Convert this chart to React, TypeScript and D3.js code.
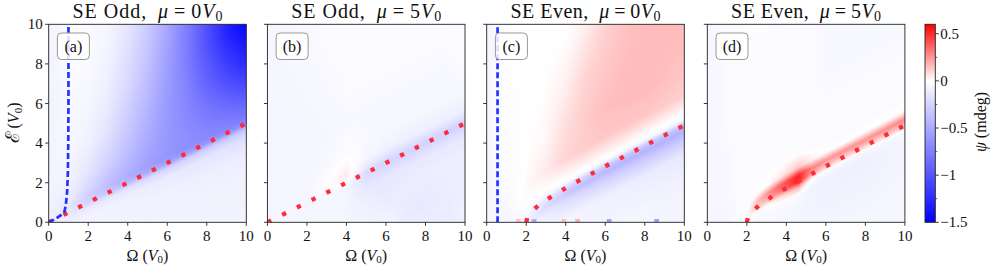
import React, { useMemo } from "react";
import * as d3 from "d3";

// ---------------- data ----------------
const OMEGA_TICKS = [0, 2, 4, 6, 8, 10];
const E_TICKS = [0, 2, 4, 6, 8, 10];
const CBAR_TICKS = [-1.5, -1, -0.5, 0, 0.5];
const CBAR_TICK_LABELS = ["\u22121.5", "\u22121", "\u22120.5", "0", "0.5"];
const CBAR_MINOR = [-1.25, -0.75, -0.25, 0.25];
const CBAR_RANGE = [-1.5, 0, 0.6];

const PANEL_TAGS = ["(a)", "(b)", "(c)", "(d)"];
const PANEL_PARITY = ["Odd", "Odd", "Even", "Even"];
const PANEL_MU = [0, 5, 0, 5];

// offset rows (E minus the red threshold curve), top to bottom
const S_ROWS = [10, 7.5, 5, 3, 1.5, 0.7, 0.3, 0, -0.3, -0.7, -1.5, -3, -5];

// red dotted threshold curves
const LIN_CURVE_OMEGA = [0, 10];
const LIN_CURVE_E = [0, 5];
const SQ_CURVE_OMEGA = [2, 2.05, 2.1, 2.2, 2.4, 2.6, 2.8, 3, 3.5, 4, 5, 6, 7, 8, 9, 10];
const SQ_CURVE_E = [0, 0.22, 0.32, 0.46, 0.66, 0.83, 0.98, 1.12, 1.44, 1.73, 2.29, 2.83, 3.35, 3.87, 4.39, 4.9];

// blue dashed curves
const BLUE_A_OMEGA = [0, 0.3, 0.6, 0.8, 0.87, 0.93, 0.97, 0.99, 1.0, 1.0, 1.0];
const BLUE_A_E = [0, 0.15, 0.35, 0.55, 0.9, 1.5, 2.5, 4, 6, 8, 10];
const BLUE_C_OMEGA = [0.55, 0.55];
const BLUE_C_E = [0, 10];

// psi (mdeg) values, one column per Omega node, rows follow S_ROWS
const OMEGA_NODES_INT = [0, 1, 2, 3, 4, 5, 6, 7, 8, 9, 10];
const ODD_MU0 = [
  [-0.07, -0.07, -0.07, -0.07, -0.07, -0.08, -0.08, -0.08, -0.08, -0.08, -0.08, -0.08, -0.08],
  [-0.03, -0.03, -0.04, -0.05, -0.07, -0.11, -0.14, -0.14, -0.1, -0.08, -0.08, -0.08, -0.08],
  [-0.03, -0.03, -0.05, -0.08, -0.15, -0.23, -0.28, -0.24, -0.11, -0.07, -0.06, -0.06, -0.06],
  [-0.06, -0.06, -0.1, -0.17, -0.26, -0.34, -0.38, -0.32, -0.13, -0.08, -0.07, -0.07, -0.07],
  [-0.15, -0.15, -0.22, -0.3, -0.38, -0.44, -0.47, -0.4, -0.16, -0.09, -0.07, -0.07, -0.07],
  [-0.3, -0.3, -0.37, -0.44, -0.5, -0.54, -0.56, -0.48, -0.2, -0.11, -0.08, -0.07, -0.07],
  [-0.5, -0.5, -0.56, -0.59, -0.6, -0.61, -0.62, -0.53, -0.23, -0.12, -0.08, -0.07, -0.07],
  [-0.76, -0.76, -0.76, -0.72, -0.68, -0.66, -0.66, -0.58, -0.26, -0.14, -0.09, -0.07, -0.07],
  [-1.02, -1.02, -1.02, -0.9, -0.78, -0.71, -0.69, -0.61, -0.28, -0.15, -0.1, -0.07, -0.07],
  [-1.28, -1.28, -1.28, -1.08, -0.88, -0.77, -0.73, -0.64, -0.3, -0.17, -0.1, -0.07, -0.07],
  [-1.48, -1.48, -1.48, -1.24, -0.99, -0.84, -0.77, -0.67, -0.33, -0.19, -0.11, -0.08, -0.07],
];
const ODD_MU5 = [
  [-0.05, -0.05, -0.06, -0.06, -0.06, -0.06, -0.06, -0.06, -0.06, -0.06, -0.06, -0.06, -0.06],
  [-0.05, -0.05, -0.06, -0.06, -0.06, -0.06, -0.06, -0.06, -0.06, -0.06, -0.06, -0.06, -0.06],
  [-0.04, -0.04, -0.05, -0.06, -0.06, -0.06, -0.06, -0.06, -0.06, -0.06, -0.06, -0.06, -0.06],
  [-0.03, -0.03, -0.04, -0.05, -0.04, -0.01, 0.0, -0.03, -0.05, -0.06, -0.06, -0.06, -0.06],
  [-0.03, -0.03, -0.03, -0.04, -0.02, 0.03, 0.05, 0.0, -0.06, -0.06, -0.06, -0.06, -0.06],
  [-0.03, -0.03, -0.03, -0.04, -0.04, -0.06, -0.13, -0.22, -0.18, -0.14, -0.09, -0.06, -0.06],
  [-0.03, -0.03, -0.03, -0.04, -0.05, -0.08, -0.18, -0.25, -0.2, -0.14, -0.13, -0.06, -0.06],
  [-0.03, -0.03, -0.03, -0.04, -0.05, -0.09, -0.18, -0.25, -0.2, -0.13, -0.11, -0.12, -0.06],
  [-0.03, -0.03, -0.03, -0.04, -0.05, -0.09, -0.19, -0.26, -0.2, -0.13, -0.1, -0.13, -0.07],
  [-0.02, -0.02, -0.03, -0.04, -0.05, -0.09, -0.19, -0.26, -0.2, -0.13, -0.1, -0.11, -0.12],
  [-0.02, -0.02, -0.02, -0.03, -0.05, -0.09, -0.19, -0.26, -0.2, -0.13, -0.1, -0.09, -0.08],
];
const EVEN_MU0 = [
  [-0.06, -0.06, -0.06, -0.06, -0.06, -0.06, -0.06, -0.06, -0.06, -0.06, -0.06, -0.06, -0.06],
  [-0.01, -0.01, -0.015, -0.02, -0.03, -0.04, -0.05, -0.05, -0.05, -0.05, -0.05, -0.05, -0.05],
  [0.0, 0.0, 0.0, 0.0, 0.01, 0.0, -0.03, -0.06, -0.06, -0.06, -0.06, -0.06, -0.06],
  [0.0, 0.0, 0.005, 0.02, 0.05, 0.01, -0.02, -0.15, -0.22, -0.12, -0.06, -0.06, -0.06],
  [0.0, 0.0, 0.04, 0.08, 0.1, 0.02, -0.02, -0.22, -0.32, -0.18, -0.07, -0.06, -0.06],
  [0.04, 0.04, 0.1, 0.12, 0.12, 0.03, -0.02, -0.27, -0.38, -0.23, -0.08, -0.06, -0.06],
  [0.1, 0.1, 0.13, 0.15, 0.13, 0.03, -0.02, -0.3, -0.41, -0.26, -0.09, -0.06, -0.06],
  [0.14, 0.14, 0.15, 0.16, 0.13, 0.03, -0.02, -0.32, -0.43, -0.28, -0.1, -0.06, -0.06],
  [0.16, 0.16, 0.16, 0.16, 0.13, 0.02, -0.03, -0.33, -0.44, -0.3, -0.11, -0.06, -0.06],
  [0.16, 0.16, 0.16, 0.15, 0.12, 0.02, -0.04, -0.34, -0.45, -0.31, -0.12, -0.07, -0.06],
  [0.16, 0.16, 0.16, 0.14, 0.11, 0.01, -0.05, -0.35, -0.45, -0.32, -0.13, -0.07, -0.06],
];
const OMEGA_NODES_D = [0, 1, 2, 2.5, 3, 4, 4.6, 5.3, 6, 7, 8, 9, 10];
const EVEN_MU5 = [
  [-0.05, -0.05, -0.05, -0.05, -0.05, -0.05, -0.05, -0.05, -0.05, -0.05, -0.05, -0.05, -0.05],
  [-0.03, -0.03, -0.03, -0.04, -0.04, -0.05, -0.05, -0.05, -0.05, -0.05, -0.05, -0.05, -0.05],
  [-0.02, -0.02, -0.02, -0.02, -0.02, -0.02, -0.01, 0.02, -0.03, -0.05, -0.05, -0.05, -0.05],
  [-0.02, -0.02, -0.02, -0.02, -0.02, -0.01, 0.15, 0.1, -0.02, -0.05, -0.05, -0.05, -0.05],
  [-0.02, -0.02, -0.02, -0.02, -0.02, 0.01, 0.25, 0.18, 0.0, -0.04, -0.05, -0.05, -0.05],
  [-0.03, -0.03, -0.02, -0.02, -0.02, 0.08, 0.42, 0.38, 0.1, -0.03, -0.05, -0.05, -0.05],
  [-0.03, -0.03, -0.03, -0.02, -0.02, 0.13, 0.52, 0.55, 0.18, -0.03, -0.06, -0.05, -0.05],
  [-0.03, -0.03, -0.03, -0.03, -0.03, 0.03, 0.3, 0.2, -0.02, -0.07, -0.07, -0.06, -0.05],
  [-0.04, -0.04, -0.04, -0.03, -0.03, 0.0, 0.26, 0.12, -0.04, -0.08, -0.08, -0.06, -0.05],
  [-0.04, -0.04, -0.04, -0.03, -0.03, 0.0, 0.26, 0.12, -0.05, -0.09, -0.08, -0.06, -0.05],
  [-0.04, -0.04, -0.04, -0.03, -0.03, 0.0, 0.26, 0.12, -0.05, -0.09, -0.08, -0.06, -0.05],
  [-0.04, -0.04, -0.04, -0.03, -0.03, 0.01, 0.27, 0.13, -0.04, -0.07, -0.07, -0.06, -0.05],
  [-0.04, -0.04, -0.04, -0.03, -0.03, 0.02, 0.29, 0.14, -0.03, -0.06, -0.06, -0.06, -0.05],
];

// small speckles at the bottom of panel (c): [Omega, psi]
const C_SPECK_OMEGA = [1.6, 2.4, 3.9, 4.6, 6.2, 8.6];
const C_SPECK_VALUE = [0.15, -0.5, 0.15, 0.2, -0.6, -0.6];

// ---------------- layout ----------------
const W = 996;
const H = 275;
const TOP = 24.3;
const BOTTOM = 222.3;
const PANEL_LEFT = [48.7, 267.4, 486.7, 707.3];
const PANEL_W = 197.6;
const CBAR_X = 925;
const CBAR_W = 10.3;
const FONT = "'Liberation Serif', 'DejaVu Serif', serif";

const PANELS = [
  { cols: OMEGA_NODES_INT, values: ODD_MU0, ridgeO: LIN_CURVE_OMEGA, ridgeE: LIN_CURVE_E, blueO: BLUE_A_OMEGA, blueE: BLUE_A_E },
  { cols: OMEGA_NODES_INT, values: ODD_MU5, ridgeO: LIN_CURVE_OMEGA, ridgeE: LIN_CURVE_E, blueO: null, blueE: null },
  { cols: OMEGA_NODES_INT, values: EVEN_MU0, ridgeO: SQ_CURVE_OMEGA, ridgeE: SQ_CURVE_E, blueO: BLUE_C_OMEGA, blueE: BLUE_C_E },
  { cols: OMEGA_NODES_D, values: EVEN_MU5, ridgeO: SQ_CURVE_OMEGA, ridgeE: SQ_CURVE_E, blueO: null, blueE: null },
];

const S_ASC = S_ROWS.slice().reverse();

function locate(arr: number[], x: number): [number, number] {
  const n = arr.length;
  if (x <= arr[0]) return [0, 0];
  if (x >= arr[n - 1]) return [n - 2, 1];
  const i = Math.min(n - 2, d3.bisectRight(arr, x) - 1);
  return [i, (x - arr[i]) / (arr[i + 1] - arr[i])];
}

function interp1(xs: number[], ys: number[], x: number) {
  const [i, t] = locate(xs, x);
  return ys[i] + t * (ys[i + 1] - ys[i]);
}

function sampleGrid(cols: number[], values: number[][], omega: number, s: number) {
  const [ci, ct] = locate(cols, omega);
  const [ri, rt] = locate(S_ASC, s);
  const nR = S_ROWS.length;
  const g = (c: number, r: number) => values[c][nR - 1 - r];
  return (
    (1 - ct) * (1 - rt) * g(ci, ri) +
    ct * (1 - rt) * g(ci + 1, ri) +
    (1 - ct) * rt * g(ci, ri + 1) +
    ct * rt * g(ci + 1, ri + 1)
  );
}

const color = d3
  .scaleLinear<string>()
  .domain(CBAR_RANGE)
  .range(["#0000ff", "#ffffff", "#ff0000"])
  .clamp(true);

function buildImage(p: (typeof PANELS)[number]) {
  const iw = 396;
  const ih = 396;
  const xs = d3.scaleLinear().domain([0, 10]).range([0, iw]);
  const ys = d3.scaleLinear().domain([0, 10]).range([ih, 0]);
  const lutN = 1024;
  const lutV = d3.scaleLinear().domain([0, lutN - 1]).range([CBAR_RANGE[0], CBAR_RANGE[2]]);
  const lut = d3.range(lutN).map((k) => d3.rgb(color(lutV(k))));
  const canvas = document.createElement("canvas");
  canvas.width = iw;
  canvas.height = ih;
  const ctx = canvas.getContext("2d")!;
  const img = ctx.createImageData(iw, ih);
  for (let j = 0; j < ih; j++) {
    const e = ys.invert(j + 0.5);
    for (let i = 0; i < iw; i++) {
      const o = xs.invert(i + 0.5);
      const ridge = interp1(p.ridgeO, p.ridgeE, o);
      const v = sampleGrid(p.cols, p.values, o, e - ridge);
      const k = Math.max(0, Math.min(lutN - 1, Math.round(lutV.invert(v))));
      const c = lut[k];
      const idx = (j * iw + i) * 4;
      img.data[idx] = c.r;
      img.data[idx + 1] = c.g;
      img.data[idx + 2] = c.b;
      img.data[idx + 3] = 255;
    }
  }
  ctx.putImageData(img, 0, 0);
  return canvas.toDataURL();
}

export default function App() {
  const images = useMemo(() => PANELS.map((p) => buildImage(p)), []);
  const y = d3.scaleLinear().domain([0, 10]).range([BOTTOM, TOP]);
  const cbarY = d3.scaleLinear().domain([CBAR_RANGE[0], CBAR_RANGE[2]]).range([BOTTOM, TOP]);
  const tickColor = "#222";

  return (
    <svg
      width={W}
      height={H}
      style={{ position: "absolute", left: 0, top: 0, background: "#fff" }}
      fontFamily={FONT}
    >
      <defs>
        {PANELS.map((_, i) => (
          <clipPath id={`clip${i}`} key={i}>
            <rect x={PANEL_LEFT[i]} y={TOP} width={PANEL_W} height={BOTTOM - TOP} />
          </clipPath>
        ))}
        <linearGradient id="cbar" x1="0" y1="1" x2="0" y2="0">
          {CBAR_RANGE.map((v) => (
            <stop
              key={v}
              offset={(v - CBAR_RANGE[0]) / (CBAR_RANGE[2] - CBAR_RANGE[0])}
              stopColor={color(v)}
            />
          ))}
        </linearGradient>
      </defs>

      {PANELS.map((p, i) => {
        const left = PANEL_LEFT[i];
        const x = d3.scaleLinear().domain([0, 10]).range([left, left + PANEL_W]);
        const line = d3
          .line<[number, number]>()
          .x((d) => x(d[0]))
          .y((d) => y(d[1]));
        const redPts: [number, number][] = p.ridgeO.map((o, k) => [o, p.ridgeE[k]] as [number, number]);
        const bluePts: [number, number][] | null = p.blueO
          ? p.blueO.map((o, k) => [o, p.blueE![k]] as [number, number])
          : null;
        const cx = left + PANEL_W / 2;
        return (
          <g key={i}>
            <image
              href={images[i]}
              x={left}
              y={TOP}
              width={PANEL_W}
              height={BOTTOM - TOP}
              preserveAspectRatio="none"
            />
            {i === 2 &&
              C_SPECK_OMEGA.map((o, k) => (
                <rect
                  key={k}
                  x={x(o - 0.12)}
                  y={y(0.16)}
                  width={x(0.24) - x(0)}
                  height={y(0.02) - y(0.16)}
                  fill={color(C_SPECK_VALUE[k])}
                />
              ))}
            <g clipPath={`url(#clip${i})`}>
              <path
                d={line(redPts) || ""}
                fill="none"
                stroke="#ff2a3a"
                strokeWidth={4.3}
                strokeDasharray="4.3 12.2"
              />
              {bluePts && (
                <path
                  d={line(bluePts) || ""}
                  fill="none"
                  stroke="#2233ff"
                  strokeWidth={2.7}
                  strokeDasharray="6 3"
                />
              )}
            </g>
            <rect
              x={left}
              y={TOP}
              width={PANEL_W}
              height={BOTTOM - TOP}
              fill="none"
              stroke={tickColor}
              strokeWidth={0.9}
            />
            {OMEGA_TICKS.map((t) => (
              <g key={t}>
                <line x1={x(t)} x2={x(t)} y1={BOTTOM} y2={BOTTOM + 3.5} stroke={tickColor} strokeWidth={0.9} />
                <text x={x(t)} y={241.3} textAnchor="middle" fontSize={15} fill="#111">
                  {t}
                </text>
              </g>
            ))}
            {E_TICKS.map((t) => (
              <g key={t}>
                <line x1={left - 3.5} x2={left} y1={y(t)} y2={y(t)} stroke={tickColor} strokeWidth={0.9} />
                {i === 0 && (
                  <text x={left - 6} y={y(t) + 5} textAnchor="end" fontSize={15} fill="#111">
                    {t}
                  </text>
                )}
              </g>
            ))}
            <text x={cx} y={260.5} textAnchor="middle" fontSize={16} fill="#111">
              {"\u03A9 ("}
              <tspan fontStyle="italic">V</tspan>
              <tspan fontSize={11} dy={2.5}>0</tspan>
              <tspan dy={-2.5}>{")"}</tspan>
            </text>
            <text
              x={cx}
              y={18.3}
              textAnchor="middle"
              fontSize={20}
              fill="#111"
              textLength={150}
              lengthAdjust="spacing"
            >
              {`SE ${PANEL_PARITY[i]},\u2002`}
              <tspan fontStyle="italic">{"\u03BC"}</tspan>
              {`\u2009=\u2009${PANEL_MU[i]}`}
              <tspan fontStyle="italic">V</tspan>
              <tspan fontSize={14} dy={3}>0</tspan>
            </text>
            <rect
              x={left + 8.7}
              y={33}
              width={32}
              height={26.5}
              rx={4}
              fill="#fff"
              fillOpacity={0.85}
              stroke="#999"
              strokeWidth={1}
            />
            <text x={left + 24.7} y={51.5} textAnchor="middle" fontSize={16} fill="#111">
              {PANEL_TAGS[i]}
            </text>
          </g>
        );
      })}

      <text transform={`translate(19,123) rotate(-90)`} textAnchor="middle" fontSize={16} fill="#111">
        <tspan fontSize={19}>{"\u2130"}</tspan>
        {" ("}
        <tspan fontStyle="italic">V</tspan>
        <tspan fontSize={11} dy={2.5}>0</tspan>
        <tspan dy={-2.5}>{")"}</tspan>
      </text>

      {/* colorbar */}
      <rect x={CBAR_X} y={TOP} width={CBAR_W} height={BOTTOM - TOP} fill="url(#cbar)" />
      <rect x={CBAR_X} y={TOP} width={CBAR_W} height={BOTTOM - TOP} fill="none" stroke={tickColor} strokeWidth={0.9} />
      {CBAR_TICKS.map((t, k) => (
        <g key={t}>
          <line
            x1={CBAR_X + CBAR_W}
            x2={CBAR_X + CBAR_W + 3.5}
            y1={cbarY(t)}
            y2={cbarY(t)}
            stroke={tickColor}
            strokeWidth={0.9}
          />
          <text x={CBAR_X + CBAR_W + 5} y={cbarY(t) + 5} fontSize={15} fill="#111">
            {CBAR_TICK_LABELS[k]}
          </text>
        </g>
      ))}
      {CBAR_MINOR.map((t) => (
        <line
          key={t}
          x1={CBAR_X + CBAR_W}
          x2={CBAR_X + CBAR_W + 2}
          y1={cbarY(t)}
          y2={cbarY(t)}
          stroke={tickColor}
          strokeWidth={0.7}
        />
      ))}
      <text transform={`translate(986,122) rotate(-90)`} textAnchor="middle" fontSize={16} fill="#111">
        <tspan fontStyle="italic">{"\u03C8"}</tspan>
        {" (mdeg)"}
      </text>
    </svg>
  );
}
